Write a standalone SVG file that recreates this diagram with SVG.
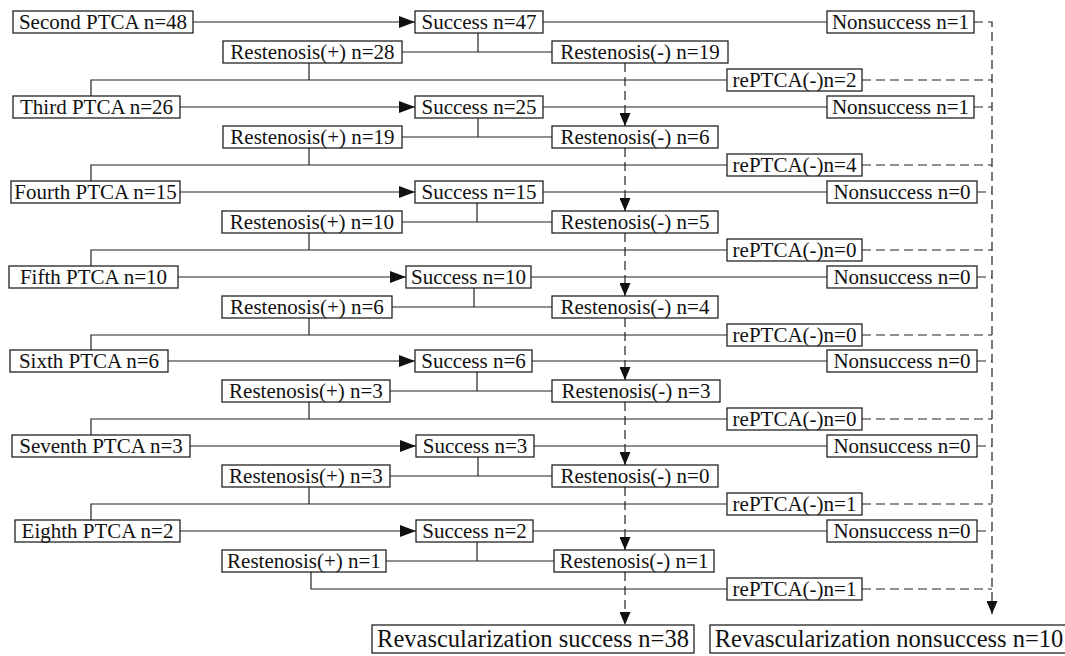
<svg xmlns="http://www.w3.org/2000/svg" width="1065" height="656" viewBox="0 0 1065 656">
<style>
.b{fill:#fff;stroke:#222;stroke-width:1.3}
.t{font-family:"Liberation Serif","Times New Roman",serif;font-size:21px;fill:#111;text-anchor:middle}
.tb{font-family:"Liberation Serif","Times New Roman",serif;font-size:24.5px;fill:#111;text-anchor:middle}
.l{fill:none;stroke:#222;stroke-width:1.2}
.d{fill:none;stroke:#222;stroke-width:1.2;stroke-dasharray:9 5}
</style>
<defs>
<marker id="ah" viewBox="0 0 16 12" refX="16" refY="6" markerWidth="16" markerHeight="12" orient="auto" markerUnits="userSpaceOnUse"><path d="M0,0 L16,6 L0,12 z" fill="#111"/></marker>
<marker id="ad" viewBox="0 0 13 11" refX="13" refY="5.5" markerWidth="13" markerHeight="11" orient="auto" markerUnits="userSpaceOnUse"><path d="M0,0 L13,5.5 L0,11 z" fill="#111"/></marker>
</defs>
<g id="connectors">
<path class="l" d="M193,22 H415" marker-end="url(#ah)"/>
<path class="l" d="M543,22 H827"/>
<path class="l" d="M402,52 H552 M478,33 V52"/>
<path class="l" d="M309,63 V80 M91,96 V80 H727"/>
<path class="d" d="M625,63 V126" marker-end="url(#ad)"/>
<path class="d" d="M862,80 H992 M974,22 H992 V614" marker-end="url(#ad)"/>
<path class="l" d="M180,107 H415" marker-end="url(#ah)"/>
<path class="l" d="M543,107 H827"/>
<path class="l" d="M402,137 H552 M478,118 V137"/>
<path class="l" d="M309,148 V165 M91,181 V165 H727"/>
<path class="d" d="M625,148 V211" marker-end="url(#ad)"/>
<path class="d" d="M862,165 H992 M974,107 H992"/>
<path class="l" d="M180,192 H415" marker-end="url(#ah)"/>
<path class="l" d="M543,192 H827"/>
<path class="l" d="M402,222 H552 M477,203 V222"/>
<path class="l" d="M309,233 V250 M91,266 V250 H727"/>
<path class="d" d="M625,233 V296" marker-end="url(#ad)"/>
<path class="d" d="M862,250 H992 M977,192 H992"/>
<path class="l" d="M178,277 H406" marker-end="url(#ah)"/>
<path class="l" d="M531,277 H827"/>
<path class="l" d="M392,307 H552 M474,288 V307"/>
<path class="l" d="M309,318 V335 M91,350 V335 H727"/>
<path class="d" d="M625,318 V380" marker-end="url(#ad)"/>
<path class="d" d="M862,335 H992 M977,277 H992"/>
<path class="l" d="M168,361 H415" marker-end="url(#ah)"/>
<path class="l" d="M532,361 H827"/>
<path class="l" d="M390,391 H552 M477,372 V391"/>
<path class="l" d="M309,402 V419 M91,435 V419 H727"/>
<path class="d" d="M625,402 V465" marker-end="url(#ad)"/>
<path class="d" d="M862,419 H992 M977,361 H992"/>
<path class="l" d="M190,446 H416" marker-end="url(#ah)"/>
<path class="l" d="M534,446 H827"/>
<path class="l" d="M390,476 H552 M478,457 V476"/>
<path class="l" d="M309,487 V504 M91,520 V504 H727"/>
<path class="d" d="M625,487 V550" marker-end="url(#ad)"/>
<path class="d" d="M862,504 H992 M977,446 H992"/>
<path class="l" d="M180,531 H416" marker-end="url(#ah)"/>
<path class="l" d="M533,531 H827"/>
<path class="l" d="M386,561 H554 M477,542 V561"/>
<path class="l" d="M311,572 V589 H727"/>
<path class="d" d="M625,572 V625" marker-end="url(#ad)"/>
<path class="d" d="M862,589 H992 M977,531 H992"/>
</g>
<g id="n-second"><rect class="b" x="13" y="11" width="180" height="22"/><text class="t" x="103" y="29">Second PTCA n=48</text></g>
<g id="n-s47"><rect class="b" x="415" y="11" width="128" height="22"/><text class="t" x="479" y="29">Success n=47</text></g>
<g id="n-ns1a"><rect class="b" x="827" y="11" width="147" height="22"/><text class="t" x="900.5" y="29">Nonsuccess n=1</text></g>
<g id="n-rp28"><rect class="b" x="223" y="41" width="179" height="22"/><text class="t" x="312.5" y="59">Restenosis(+) n=28</text></g>
<g id="n-rm19"><rect class="b" x="552" y="41" width="176" height="22"/><text class="t" x="640" y="59">Restenosis(-) n=19</text></g>
<g id="n-re2"><rect class="b" x="727" y="69" width="135" height="22"/><text class="t" x="794.5" y="87">rePTCA(-)n=2</text></g>

<g id="n-third"><rect class="b" x="13" y="96" width="167" height="22"/><text class="t" x="96.5" y="114">Third PTCA n=26</text></g>
<g id="n-s25"><rect class="b" x="415" y="96" width="128" height="22"/><text class="t" x="479" y="114">Success n=25</text></g>
<g id="n-ns1b"><rect class="b" x="827" y="96" width="147" height="22"/><text class="t" x="900.5" y="114">Nonsuccess n=1</text></g>
<g id="n-rp19"><rect class="b" x="223" y="126" width="179" height="22"/><text class="t" x="312.5" y="144">Restenosis(+) n=19</text></g>
<g id="n-rm6"><rect class="b" x="552" y="126" width="166" height="22"/><text class="t" x="635" y="144">Restenosis(-) n=6</text></g>
<g id="n-re4"><rect class="b" x="727" y="154" width="135" height="22"/><text class="t" x="794.5" y="172">rePTCA(-)n=4</text></g>

<g id="n-fourth"><rect class="b" x="11" y="181" width="169" height="22"/><text class="t" x="95.5" y="199">Fourth PTCA n=15</text></g>
<g id="n-s15"><rect class="b" x="415" y="181" width="128" height="22"/><text class="t" x="479" y="199">Success n=15</text></g>
<g id="n-ns0a"><rect class="b" x="827" y="181" width="150" height="22"/><text class="t" x="902" y="199">Nonsuccess n=0</text></g>
<g id="n-rp10"><rect class="b" x="222" y="211" width="180" height="22"/><text class="t" x="312" y="229">Restenosis(+) n=10</text></g>
<g id="n-rm5"><rect class="b" x="552" y="211" width="166" height="22"/><text class="t" x="635" y="229">Restenosis(-) n=5</text></g>
<g id="n-re0a"><rect class="b" x="727" y="239" width="135" height="22"/><text class="t" x="794.5" y="257">rePTCA(-)n=0</text></g>

<g id="n-fifth"><rect class="b" x="9" y="266" width="169" height="22"/><text class="t" x="93.5" y="284">Fifth PTCA n=10</text></g>
<g id="n-s10"><rect class="b" x="406" y="266" width="125" height="22"/><text class="t" x="468.5" y="284">Success n=10</text></g>
<g id="n-ns0b"><rect class="b" x="827" y="266" width="150" height="22"/><text class="t" x="902" y="284">Nonsuccess n=0</text></g>
<g id="n-rp6"><rect class="b" x="222" y="296" width="170" height="22"/><text class="t" x="307" y="314">Restenosis(+) n=6</text></g>
<g id="n-rm4"><rect class="b" x="552" y="296" width="166" height="22"/><text class="t" x="635" y="314">Restenosis(-) n=4</text></g>
<g id="n-re0b"><rect class="b" x="727" y="324" width="135" height="22"/><text class="t" x="794.5" y="342">rePTCA(-)n=0</text></g>

<g id="n-sixth"><rect class="b" x="10" y="350" width="158" height="22"/><text class="t" x="89" y="368">Sixth PTCA n=6</text></g>
<g id="n-s6"><rect class="b" x="415" y="350" width="117" height="22"/><text class="t" x="473.5" y="368">Success n=6</text></g>
<g id="n-ns0c"><rect class="b" x="827" y="350" width="150" height="22"/><text class="t" x="902" y="368">Nonsuccess n=0</text></g>
<g id="n-rp3a"><rect class="b" x="222" y="380" width="168" height="22"/><text class="t" x="306" y="398">Restenosis(+) n=3</text></g>
<g id="n-rm3"><rect class="b" x="552" y="380" width="168" height="22"/><text class="t" x="636" y="398">Restenosis(-) n=3</text></g>
<g id="n-re0c"><rect class="b" x="727" y="408" width="135" height="22"/><text class="t" x="794.5" y="426">rePTCA(-)n=0</text></g>

<g id="n-seventh"><rect class="b" x="12" y="435" width="178" height="22"/><text class="t" x="101" y="453">Seventh PTCA n=3</text></g>
<g id="n-s3"><rect class="b" x="416" y="435" width="118" height="22"/><text class="t" x="475" y="453">Success n=3</text></g>
<g id="n-ns0d"><rect class="b" x="827" y="435" width="150" height="22"/><text class="t" x="902" y="453">Nonsuccess n=0</text></g>
<g id="n-rp3b"><rect class="b" x="222" y="465" width="168" height="22"/><text class="t" x="306" y="483">Restenosis(+) n=3</text></g>
<g id="n-rm0"><rect class="b" x="552" y="465" width="166" height="22"/><text class="t" x="635" y="483">Restenosis(-) n=0</text></g>
<g id="n-re1a"><rect class="b" x="727" y="493" width="135" height="22"/><text class="t" x="794.5" y="511">rePTCA(-)n=1</text></g>

<g id="n-eighth"><rect class="b" x="15" y="520" width="165" height="22"/><text class="t" x="97.5" y="538">Eighth PTCA n=2</text></g>
<g id="n-s2"><rect class="b" x="416" y="520" width="117" height="22"/><text class="t" x="474.5" y="538">Success n=2</text></g>
<g id="n-ns0e"><rect class="b" x="827" y="520" width="150" height="22"/><text class="t" x="902" y="538">Nonsuccess n=0</text></g>
<g id="n-rp1"><rect class="b" x="222" y="550" width="164" height="22"/><text class="t" x="304" y="568">Restenosis(+) n=1</text></g>
<g id="n-rm1"><rect class="b" x="554" y="550" width="160" height="22"/><text class="t" x="634" y="568">Restenosis(-) n=1</text></g>
<g id="n-re1b"><rect class="b" x="727" y="578" width="135" height="22"/><text class="t" x="794.5" y="596">rePTCA(-)n=1</text></g>

<g id="n-revs"><rect class="b" x="372" y="625" width="322" height="28"/><text class="tb" x="533" y="647">Revascularization success n=38</text></g>
<g id="n-revn"><rect class="b" x="710" y="625" width="370" height="28"/><text class="tb" x="889" y="647">Revascularization nonsuccess n=10</text></g>
</svg>
